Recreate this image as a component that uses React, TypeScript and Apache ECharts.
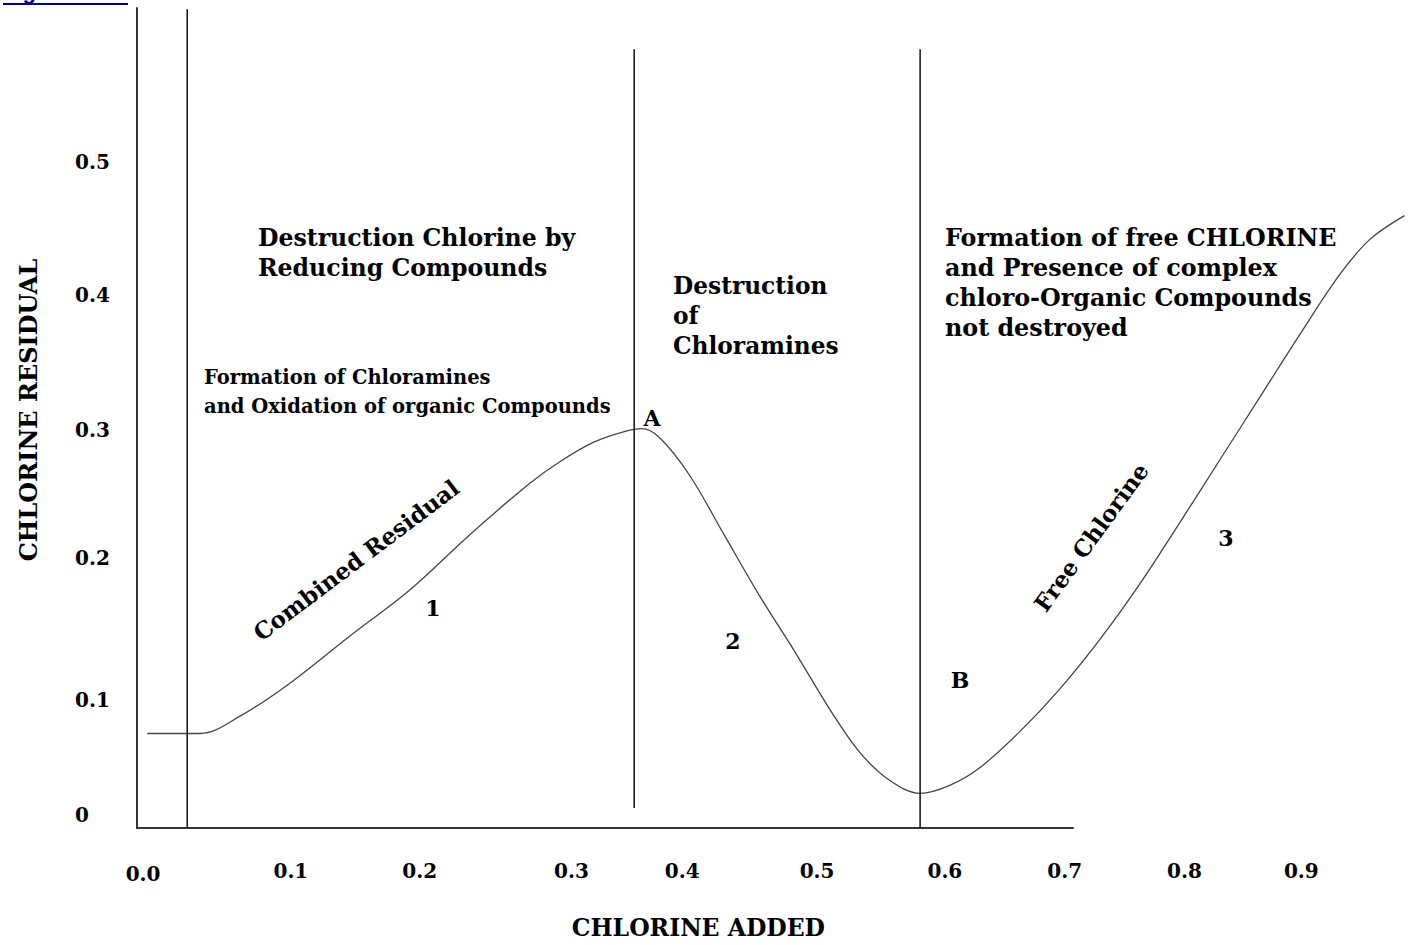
import React, { useEffect, useRef } from "react";
import * as echarts from "echarts";

// Breakpoint chlorination curve
const chlorineAdded = [
  -0.013, 0.028, 0.059, 0.098, 0.144, 0.191, 0.237, 0.284, 0.307, 0.334, 0.358,
  0.371, 0.385, 0.408, 0.435, 0.462, 0.49, 0.517, 0.54, 0.563, 0.587, 0.61,
  0.633, 0.664, 0.695, 0.726, 0.758, 0.789, 0.82, 0.851, 0.882, 0.913, 0.936, 0.963,
];
const chlorineResidual = [
  0.071, 0.071, 0.084, 0.109, 0.144, 0.179, 0.22, 0.259, 0.275, 0.29, 0.298,
  0.3, 0.293, 0.265, 0.22, 0.175, 0.132, 0.089, 0.057, 0.036, 0.026, 0.032,
  0.045, 0.072, 0.104, 0.141, 0.184, 0.23, 0.277, 0.324, 0.371, 0.416, 0.442, 0.46,
];

// Region dividers (vertical lines)
const dividerX = [0.018, 0.365, 0.587];
const dividerFrom = [0, 0.015, 0];
const dividerTo = [0.615, 0.585, 0.585];

// Tick labels
const xTickValues = [0, 0.1, 0.2, 0.3, 0.4, 0.5, 0.6, 0.7, 0.8, 0.9];
const xTickLabels = ["0.0", "0.1", "0.2", "0.3", "0.4", "0.5", "0.6", "0.7", "0.8", "0.9"];
const yTickValues = [0, 0.1, 0.2, 0.3, 0.4, 0.5];
const yTickLabels = ["0", "0.1", "0.2", "0.3", "0.4", "0.5"];

const xAxisTitle = "CHLORINE ADDED";
const yAxisTitle = "CHLORINE RESIDUAL";

// Annotation texts
const noteReducing = "Destruction Chlorine by\nReducing Compounds";
const noteChloramines = "Formation of Chloramines\nand Oxidation of organic Compounds";
const noteDestruction = "Destruction\nof\nChloramines";
const noteFree = "Formation of free CHLORINE\nand Presence of complex\nchloro-Organic Compounds\nnot destroyed";
const curveLabelCombined = "Combined Residual";
const curveLabelFree = "Free Chlorine";
const zoneLabels = ["1", "2", "3"];
const pointLabels = ["A", "B"];

// ---- styling (positions / offsets of the hand-drawn figure) ----
const FONT = "'DejaVu Serif', 'Liberation Serif', serif";
const TICK_SIZE = 20;
const xLabelShift = [[-21, 3], [-2, 0], [-2, 0], [21, 0], [3, 0], [9, 0], [8, 0], [-1, 0], [-10, 0], [-22, 0]];
const yLabelShift = [-13, 5, -4, 1, -1, 0];

function xRich() {
  const r: any = {};
  xLabelShift.forEach(([dx, dy], i) => {
    r["x" + i] = {
      fontFamily: FONT, fontWeight: "bold", fontSize: TICK_SIZE, color: "#000",
      padding: [dy > 0 ? dy : 0, dx < 0 ? -2 * dx : 0, 0, dx > 0 ? 2 * dx : 0],
    };
  });
  return r;
}
function yRich() {
  const r: any = {};
  yLabelShift.forEach((dy, i) => {
    r["y" + i] = {
      fontFamily: FONT, fontWeight: "bold", fontSize: TICK_SIZE, color: "#000",
      padding: [dy > 0 ? 2 * dy : 0, 0, dy < 0 ? -2 * dy : 0, 0],
    };
  });
  return r;
}
const idxOf = (arr: number[], v: number) => arr.findIndex((a) => Math.abs(a - v) < 1e-6);

function txt(text: string, x: number, y: number, size: number, opts: any = {}) {
  return {
    type: "text",
    x, y,
    rotation: opts.rotation || 0,
    style: {
      text,
      fontFamily: FONT,
      fontWeight: "bold",
      fontSize: size,
      lineHeight: opts.lineHeight || size * 1.3,
      fill: "#000",
      align: opts.align || "left",
      textAlign: opts.align || "left",
      verticalAlign: opts.va || "top",
      textVerticalAlign: opts.va || "top",
    },
  };
}

export default function App() {
  const ref = useRef<HTMLDivElement>(null);
  useEffect(() => {
    const chart = echarts.init(ref.current!, null, { renderer: "svg" });
    const curve = chlorineAdded.map((x, i) => [x, chlorineResidual[i]]);
    const dividers = dividerX.map((x, i) => ({
      type: "line",
      xAxisIndex: 0,
      yAxisIndex: 0,
      data: [[x, dividerFrom[i]], [x, dividerTo[i]]],
      symbol: "none",
      clip: false,
      lineStyle: { color: "#111", width: 1.5 },
      silent: true,
    }));
    const option: any = {
      animation: false,
      backgroundColor: "#fff",
      grid: [
        { left: 137, right: 5.3, top: 8, bottom: 117, outerBoundsMode: "none", containLabel: false },
        { left: 137, right: 338, top: 8, bottom: 117, outerBoundsMode: "none", containLabel: false },
      ],
      xAxis: [
        {
          type: "value",
          gridIndex: 0,
          min: -0.021,
          max: 0.964,
          axisLine: { show: false },
          axisTick: { show: false },
          splitLine: { show: false },
          name: xAxisTitle,
          nameLocation: "middle",
          nameGap: 88,
          nameTextStyle: {
            fontFamily: FONT, fontWeight: "bold", fontSize: 23.5, color: "#000",
            lineHeight: 24,
            padding: [0, 146, 0, 0],
          },
          axisLabel: {
            customValues: xTickValues,
            margin: 33,
            formatter: (v: number) => {
              const i = idxOf(xTickValues, v);
              return i < 0 ? "" : `{x${i}|${xTickLabels[i]}}`;
            },
            rich: xRich(),
          },
        },
        {
          type: "value",
          gridIndex: 1,
          min: 0,
          max: 1,
          axisLine: { show: true, onZero: false, lineStyle: { color: "#333", width: 2 } },
          axisTick: { show: false },
          axisLabel: { show: false },
          splitLine: { show: false },
        },
      ],
      yAxis: [
        {
          type: "value",
          gridIndex: 0,
          min: 0,
          max: 0.616,
          axisLine: { show: true, onZero: false, lineStyle: { color: "#333", width: 2 } },
          axisTick: { show: false },
          splitLine: { show: false },
          name: yAxisTitle,
          nameLocation: "middle",
          nameRotate: 90,
          nameGap: 97,
          nameTextStyle: {
            fontFamily: FONT, fontWeight: "bold", fontSize: 24, color: "#000",
            padding: [0, 0, 0, 16],
          },
          axisLabel: {
            customValues: yTickValues,
            margin: 62,
            align: "left",
            formatter: (v: number) => {
              const i = idxOf(yTickValues, v);
              return i < 0 ? "" : `{y${i}|${yTickLabels[i]}}`;
            },
            rich: yRich(),
          },
        },
        {
          type: "value",
          gridIndex: 1,
          show: false,
          min: 0,
          max: 1,
        },
      ],
      series: [
        {
          type: "line",
          name: "Chlorine residual",
          xAxisIndex: 0,
          yAxisIndex: 0,
          data: curve,
          showSymbol: false,
          symbol: "none",
          smooth: 0.35,
          clip: false,
          lineStyle: { color: "#444", width: 1.3 },
        },
        ...dividers,
      ],
      graphic: [
        {
          type: "text",
          x: 3,
          y: 2,
          style: {
            text: "Figure 1.",
            fontFamily: "'Liberation Sans', Arial, sans-serif",
            fontWeight: "bold",
            fontSize: 22,
            fill: "#000080",
            align: "left",
            verticalAlign: "bottom",
            textAlign: "left",
            textVerticalAlign: "bottom",
          },
        },
        { type: "rect", shape: { x: 3, y: 3, width: 125, height: 2 }, style: { fill: "#000080" } },
        txt(noteReducing, 258, 223, 23.6, { lineHeight: 30 }),
        txt(noteChloramines, 204, 363, 19.5, { lineHeight: 29 }),
        txt(noteDestruction, 673, 270, 23.3, { lineHeight: 30 }),
        txt(noteFree, 945, 223, 23.8, { lineHeight: 30 }),
        txt(curveLabelCombined, 356, 560, 23, { align: "center", va: "middle", rotation: (37 * Math.PI) / 180 }),
        txt(curveLabelFree, 1091, 537, 23, { align: "center", va: "middle", rotation: (54 * Math.PI) / 180 }),
        txt(zoneLabels[0], 433, 608, 22, { align: "center", va: "middle" }),
        txt(zoneLabels[1], 733, 641, 22, { align: "center", va: "middle" }),
        txt(zoneLabels[2], 1226, 538, 22, { align: "center", va: "middle" }),
        txt(pointLabels[0], 652, 418, 22, { align: "center", va: "middle" }),
        txt(pointLabels[1], 960, 680, 22, { align: "center", va: "middle" }),
      ],
    };
    chart.setOption(option);
    return () => chart.dispose();
  }, []);
  return (
    <div
      ref={ref}
      style={{ position: "fixed", left: 0, top: 0, width: 1411, height: 945, background: "#fff" }}
    />
  );
}
